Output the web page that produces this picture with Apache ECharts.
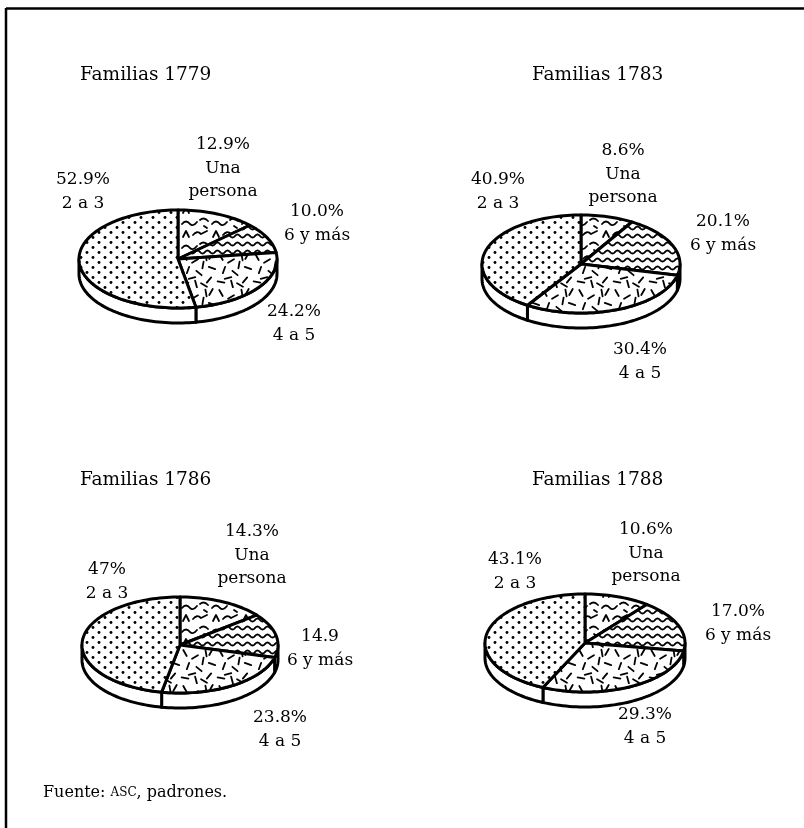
<!DOCTYPE html>
<html><head><meta charset="utf-8">
<script src="https://cdn.jsdelivr.net/npm/echarts@6/dist/echarts.min.js"></script>
<style>html,body{margin:0;padding:0;background:#fff}#c{width:804px;height:828px}</style>
</head><body><div id="c"></div>
<script>
// ---- data ----
const categories = ['Una\npersona', '6 y más', '4 a 5', '2 a 3'];
const years = ['1779', '1783', '1786', '1788'];
const values1779 = [12.9, 10.0, 24.2, 52.9];
const values1783 = [8.6, 20.1, 30.4, 40.9];
const values1786 = [14.3, 14.9, 23.8, 47.0];
const values1788 = [10.6, 17.0, 29.3, 43.1];
const pctLabels1779 = ['12.9%', '10.0%', '24.2%', '52.9%'];
const pctLabels1783 = ['8.6%', '20.1%', '30.4%', '40.9%'];
const pctLabels1786 = ['14.3%', '14.9', '23.8%', '47%'];
const pctLabels1788 = ['10.6%', '17.0%', '29.3%', '43.1%'];
const sourceNote = 'Fuente: {sc|ASC}, padrones.';

// ---- layout (positions / sizes only) ----
const layouts = [
  { cx: 178, cy: 259, rx: 99, ry: 49, depth: 15, title: [80, 75],
    lab: [[45, -114], [139, -47], [116, 53], [-95, -79]] },
  { cx: 581, cy: 264, rx: 99, ry: 49, depth: 15, title: [532, 75],
    lab: [[42, -113], [142, -42], [59, 86], [-83, -84]] },
  { cx: 180, cy: 645, rx: 98, ry: 48, depth: 15, title: [80, 480],
    lab: [[72, -113], [140, -8], [100, 73], [-73, -75]] },
  { cx: 585, cy: 643, rx: 100, ry: 49, depth: 15, title: [532, 480],
    lab: [[61, -113], [153, -31], [60, 72], [-70, -83]] }
];
const FONT = '"DejaVu Serif", "Liberation Serif", serif';
const LW = 3;

// ---- patterns ----
function mk(w, h, draw) {
  const c = document.createElement('canvas'); c.width = w; c.height = h;
  const g = c.getContext('2d');
  g.fillStyle = '#fff'; g.fillRect(0, 0, w, h);
  g.strokeStyle = '#000'; g.fillStyle = '#000'; g.lineCap = 'round'; g.lineJoin = 'round';
  draw(g); return c;
}
const patSquiggle = mk(30, 24, g => {
  g.lineWidth = 1.8;
  g.beginPath(); g.moveTo(2, 8); g.quadraticCurveTo(6, 3, 10, 8); g.quadraticCurveTo(13, 11, 17, 6); g.stroke();
  g.beginPath(); g.moveTo(13, 19); g.quadraticCurveTo(17, 14, 21, 18); g.lineTo(27, 15); g.stroke();
  g.beginPath(); g.moveTo(3, 21); g.lineTo(6, 15); g.lineTo(9, 21); g.stroke();
  g.beginPath(); g.moveTo(20, 4); g.quadraticCurveTo(24, 0.5, 28, 5); g.stroke();
  g.beginPath(); g.moveTo(24, 10); g.lineTo(27, 12); g.stroke();
});
const patWaves = mk(10, 8, g => {
  g.lineWidth = 1.8; g.beginPath();
  for (let x = -1; x <= 11; x += 0.5) {
    const y = 4 + 1.5 * Math.sin(x / 10 * 2 * Math.PI);
    if (x === -1) g.moveTo(x, y); else g.lineTo(x, y);
  }
  g.stroke();
});
const dashSpec = [[5,5,60],[15,9,-30],[26,5,80],[32,16,20],[8,18,-70],[19,21,40],[29,28,-50],
  [5,30,10],[16,32,75],[23,13,100],[12,26,-15],[31,4,-60],[24,33,30]];
const patDashes = mk(36, 36, g => {
  g.lineWidth = 1.8;
  dashSpec.forEach(([x, y, a]) => {
    const r = a * Math.PI / 180, L = 3.4;
    g.beginPath(); g.moveTo(x - L * Math.cos(r), y - L * Math.sin(r));
    g.lineTo(x + L * Math.cos(r), y + L * Math.sin(r)); g.stroke();
  });
});
const patDots = mk(12, 10, g => {
  [[3, 2.5], [9, 7.5]].forEach(([x, y]) => { g.beginPath(); g.arc(x, y, 1.45, 0, 7); g.fill(); });
});
const patterns = [patSquiggle, patWaves, patDashes, patDots];

// ---- series ----
function makeSeries(L, values, pctLabels) {
  const total = values.reduce((a, b) => a + b, 0);
  return {
    type: 'custom', coordinateSystem: 'none', silent: true, animation: false,
    data: values.map((v, i) => ({ value: v, name: categories[i] })),
    renderItem: function (params, api) {
      const i = params.dataIndex;
      let start = 0; for (let k = 0; k < i; k++) start += values[k];
      const v = api.value(0);
      const a0 = start / total * 2 * Math.PI, a1 = (start + v) / total * 2 * Math.PI;
      const pt = (t, dy) => [L.cx + L.rx * Math.sin(t), L.cy - L.ry * Math.cos(t) + (dy || 0)];
      const arc = (s, e, dy) => {
        const n = Math.max(2, Math.ceil((e - s) / (Math.PI / 90)));
        const out = []; for (let k = 0; k <= n; k++) out.push(pt(s + (e - s) * k / n, dy)); return out;
      };
      const children = [];
      const s0 = Math.max(a0, Math.PI / 2), s1 = Math.min(a1, 3 * Math.PI / 2);
      if (s1 > s0) {
        const pts = arc(s0, s1, 0).concat(arc(s0, s1, L.depth).reverse());
        children.push({ type: 'polygon', z2: 1, shape: { points: pts },
          style: { fill: '#fff', stroke: '#000', lineWidth: LW, lineJoin: 'round' } });
      }
      const top = [[L.cx, L.cy]].concat(arc(a0, a1, 0));
      children.push({ type: 'polygon', z2: 5, shape: { points: top },
        style: { fill: { image: patterns[i], repeat: 'repeat' }, stroke: '#000', lineWidth: LW, lineJoin: 'round' } });
      children.push({ type: 'text', z2: 10, x: L.cx + L.lab[i][0], y: L.cy + L.lab[i][1] - 11.75,
        style: { text: pctLabels[i] + '\n' + categories[i], fill: '#000', fontSize: 17, fontFamily: FONT,
          align: 'center', verticalAlign: 'top', lineHeight: 23.5 } });
      return { type: 'group', children: children };
    }
  };
}

const allValues = [values1779, values1783, values1786, values1788];
const allLabels = [pctLabels1779, pctLabels1783, pctLabels1786, pctLabels1788];

const graphics = [
  { type: 'line', shape: { x1: 6, y1: 8.5, x2: 804, y2: 8.5 }, style: { stroke: '#000', lineWidth: 2.5 } },
  { type: 'line', shape: { x1: 6, y1: 8, x2: 6, y2: 828 }, style: { stroke: '#000', lineWidth: 2.5 } },
  { type: 'text', x: 43, y: 793, style: { text: sourceNote, fill: '#000', fontSize: 16, fontFamily: FONT,
      verticalAlign: 'middle', rich: { sc: { fontSize: 12, fontFamily: FONT, fill: '#000' } } } }
];
layouts.forEach((L, k) => {
  graphics.push({ type: 'text', x: L.title[0], y: L.title[1],
    style: { text: 'Familias ' + years[k], fill: '#000', fontSize: 18.5, fontFamily: FONT, verticalAlign: 'middle' } });
});

const chart = echarts.init(document.getElementById('c'), null, { renderer: 'canvas' });
chart.setOption({
  backgroundColor: '#fff',
  animation: false,
  graphic: graphics,
  series: layouts.map((L, k) => makeSeries(L, allValues[k], allLabels[k]))
});
</script></body></html>
